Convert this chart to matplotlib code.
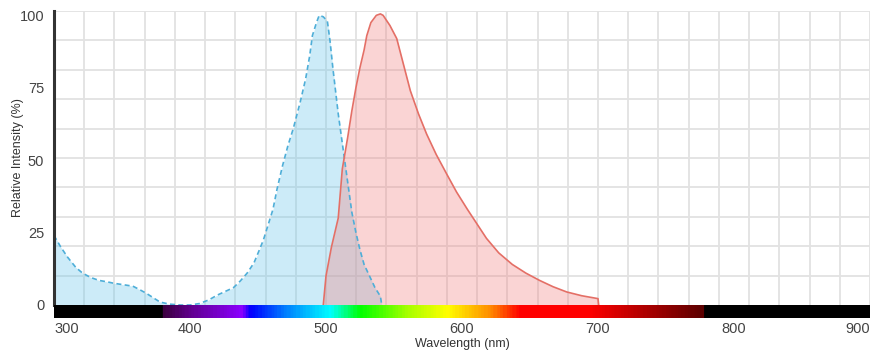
import numpy as np
import matplotlib.pyplot as plt
from matplotlib.colors import LinearSegmentedColormap

# excitation spectrum (dashed blue)
ex_nm = [300, 305, 310, 316, 321, 327, 333, 339, 344, 351, 358, 363, 368, 373,
         378, 385, 393, 400, 407, 414, 420, 426, 432, 437, 442, 447, 451, 454,
         457, 461, 464, 468, 472, 476, 481, 485, 488, 490, 493, 495, 498, 501,
         503, 505, 509, 514, 519, 522, 525, 528, 532, 536, 540, 541]
ex_val = [24, 20, 16.5, 13, 11, 9.5, 8.5, 8, 7.5, 7, 6.5, 5.3, 4, 2.5,
          1, 0.3, 0, 0, 0.5, 1.8, 3.4, 4.7, 6, 8.3, 11, 14.5, 19, 22.5,
          27, 33, 40, 48, 55, 61, 70, 78, 86, 93, 97.5, 100, 99.5, 98,
          91, 82, 66, 49, 32, 25, 19, 14, 10, 6, 3, 0]

# emission spectrum (solid red)
em_nm = [498, 500, 504, 509, 512, 516, 519, 522, 525, 528, 530, 533, 537,
         540, 542, 547, 552, 557, 562, 568, 574, 581, 589, 596, 604, 611,
         618, 627, 637, 647, 657, 667, 677, 688, 700, 700.5]
em_val = [0, 10, 20, 30, 47, 58, 67, 75, 82, 88, 93, 97.5, 100,
          100.5, 100, 96.5, 92, 83, 74, 66, 59, 52, 45, 39, 33, 28,
          23, 18, 14, 11, 8.5, 6.3, 4.5, 3.2, 2.2, 0]

x_ticks = [300, 400, 500, 600, 700, 800, 900]
y_ticks = [0, 25, 50, 75, 100]

# colour stops of the visible-spectrum strip under the axis
strip_nm = [300, 379, 380, 400, 437, 444, 470, 503, 525, 560, 589, 621, 643,
            694, 779, 780, 900]
strip_col = ['#000000', '#000000', '#3c0040', '#620090', '#8a00ff', '#0000ff',
             '#0080ff', '#00ffff', '#00ff00', '#a8ff00', '#ffff00', '#ff8c00',
             '#ff0000', '#ff0000', '#5a0000', '#000000', '#000000']

W, H = 882, 356
fig = plt.figure(figsize=(W / 100, H / 100), dpi=100)
plt.rcParams['font.family'] = ['Liberation Sans', 'DejaVu Sans']

ax = fig.add_axes([54 / W, 1 - 305 / H, 816 / W, 294 / H])
ax.set_xlim(300, 900)
ax.set_ylim(0, 101.5)

ax.fill_between(ex_nm, ex_val, color='#6dc8eb', alpha=0.35, lw=0)
ax.fill_between(em_nm, em_val, color='#f18484', alpha=0.35, lw=0)
ax.plot(ex_nm, ex_val, color='#4eaed8', lw=1.2, ls=(0, (3, 2)))
ax.plot(em_nm, em_val, color='#e46f66', lw=1.2)

ax.set_xticks(np.linspace(300, 900, 28), minor=True)
ax.set_yticks(np.linspace(0, 101.5, 11), minor=True)
ax.set_xticks([])
ax.set_yticks(y_ticks)
ax.set_yticklabels([str(v) for v in y_ticks], color='#444444', fontsize=10.5)
ax.tick_params(axis='y', which='both', length=0, pad=7)
ax.tick_params(axis='x', which='both', length=0)
ax.grid(which='minor', color='#e2e2e2', lw=1.3)
ax.set_axisbelow(True)
for s in ['top', 'right', 'bottom']:
    ax.spines[s].set_visible(False)
ax.spines['left'].set_color('#333333')
ax.spines['left'].set_linewidth(2.2)
ax.set_ylabel('Relative Intensity (%)', fontsize=9, color='#333333')
ax.yaxis.set_label_coords(-30 / 816, 0.5)

# spectrum strip
bar = fig.add_axes([54 / W, 1 - 318 / H, 816 / W, 13 / H])
pos = [(n - 300) / 600 for n in strip_nm]
cmap = LinearSegmentedColormap.from_list('vis', list(zip(pos, strip_col)))
bar.imshow(np.linspace(0, 1, 600)[None, :], aspect='auto', cmap=cmap,
           extent=[300, 900, 0, 1])
bar.set_xlim(300, 900)
bar.set_yticks([])
bar.set_xticks(x_ticks)
bar.set_xticklabels([str(v) for v in x_ticks], color='#444444', fontsize=10.5)
labs = bar.get_xticklabels()
labs[0].set_horizontalalignment('left')
labs[-1].set_horizontalalignment('right')
bar.tick_params(axis='x', length=0, pad=3)
for s in bar.spines.values():
    s.set_visible(False)
bar.set_xlabel('Wavelength (nm)', fontsize=9, color='#333333', labelpad=1)

fig.savefig('out.png', dpi=100)
